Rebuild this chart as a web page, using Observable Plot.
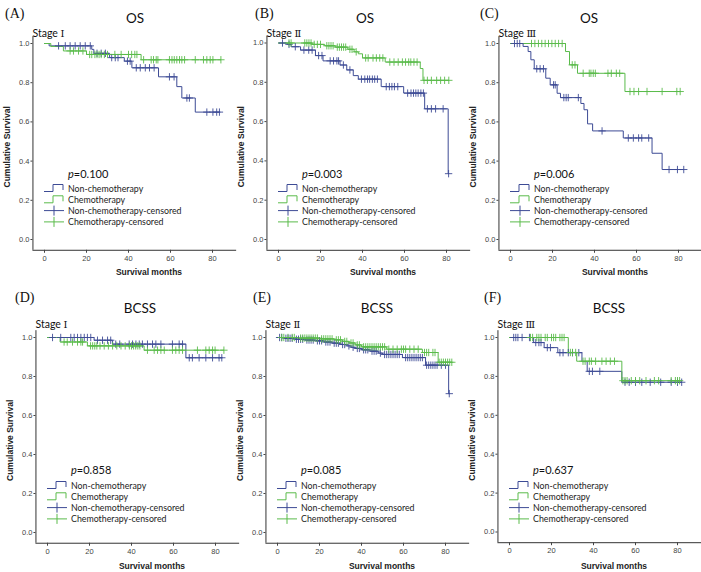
<!DOCTYPE html>
<html><head><meta charset="utf-8">
<script src="https://cdn.jsdelivr.net/npm/d3@7"></script>
<script src="https://cdn.jsdelivr.net/npm/@observablehq/plot@0.6"></script>
<style>
html,body{margin:0;padding:0;background:#fff;}
#root{position:relative;width:701px;height:572px;overflow:hidden;background:#fff;}
#root svg{position:absolute;}
</style></head><body><div id="root"></div>
<script>
// ---------- DATA ----------
const panelLetters = ["(A)","(B)","(C)","(D)","(E)","(F)"];
const endpoints = ["OS","OS","OS","BCSS","BCSS","BCSS"];
const stageNumerals = ["Ⅰ","Ⅱ","Ⅲ","Ⅰ","Ⅱ","Ⅲ"];
const pValues = ["0.100","0.003","0.006","0.858","0.085","0.637"];
const legendLabels = ["Non-chemotherapy","Chemotherapy","Non-chemotherapy-censored","Chemotherapy-censored"];
const xTicks = [0,20,40,60,80];
const yTicks = [0,0.2,0.4,0.6,0.8,1.0];
const xLabel = "Survival months";
const yLabel = "Cumulative Survival";

// Kaplan-Meier steps: [month, survival after event]; censored: months
const A_nonSteps = [[0,1],[2.2,0.988],[22.5,0.97],[23.5,0.95],[31,0.928],[38,0.91],[41.6,0.876],[54.3,0.83],[63,0.78],[65.4,0.722],[71.8,0.65]];
const A_nonCens = [6.7,9.9,12.2,14.6,17,19.4,21.8,25,27,29,32,33.7,35,39.5,40.8,43.7,45.6,48,50,52.2,59.5,61.7,67.8,69,77.3,80.2,82,83.3];
const A_chemoSteps = [[0,1],[3,0.985],[9,0.962],[20,0.944],[46,0.917]];
const A_chemoCens = [12.2,13.8,16.2,18.3,21.5,22.5,24,25,26,27,28.5,30,33.5,36.5,40,41.5,43,44,47.2,50.8,51.9,53.2,54,59.5,60.7,61.8,63,64.3,65.4,66.7,71.8,75.7,77.3,78.9,80.2,84];

const B_nonSteps = [[0,1],[4.2,0.993],[6,0.981],[10.5,0.964],[17.6,0.936],[21.2,0.909],[29.3,0.888],[32.5,0.863],[35.6,0.834],[38,0.816],[48.9,0.778],[59.6,0.745],[69.6,0.665],[80.8,0.335]];
const B_nonCens = [1.9,5,8,12.1,14.4,16,19.1,20.7,24.6,26.2,27.8,28.6,30.9,34,39.5,41.1,42.4,43.4,44.7,45.8,47.1,51.3,52.8,54,55.2,56.8,61.5,63.1,64.3,65.4,66.5,67.8,69,70.9,72.8,74.8,78.4,81];
const B_chemoSteps = [[0,1],[16,0.993],[22,0.986],[27,0.979],[33,0.968],[36,0.955],[38,0.945],[40,0.924],[50.8,0.903],[67.5,0.87],[68.8,0.81]];
const B_chemoCens = [5,6,12.5,13.5,14.5,15.5,17,18.5,20,23,24,25,26,28,29,30,31,32,34,35,37,41.5,42.7,45,46.6,48.2,49.7,53,55,57,59,60.5,62,63,64.5,66,69.3,70.9,72.8,75.3,77.2,79.1,81.1];

const C_nonSteps = [[0,1],[6,0.985],[8.4,0.959],[9.7,0.917],[11.3,0.871],[16.8,0.823],[18.9,0.789],[22.2,0.746],[23.8,0.724],[33.5,0.694],[35,0.662],[36.7,0.59],[39.1,0.554],[53.7,0.518],[67.4,0.44],[72.2,0.357]];
const C_nonCens = [1.9,3.2,4.4,12.5,14.1,15.7,20.5,21.3,25.4,26.5,27.5,32.3,43.6,56.1,58.5,61,62.5,65.8,75.5,79.5,82.5];
const C_chemoSteps = [[0,1],[26.2,0.959],[28.1,0.891],[31.9,0.848],[54.5,0.755]];
const C_chemoCens = [10,11.6,13.3,14.9,16.5,18.1,19.7,21.3,22.9,24.6,29.4,30.7,34.6,37.5,38.3,39.4,40.4,46.4,48,50.4,52,56.9,58.8,61,65,72.2,79.2,80.8];

const D_nonSteps = [[0,1],[22.2,0.986],[31,0.966],[65.9,0.896]];
const D_nonCens = [2.4,6.3,11.1,12.7,14.3,15.9,17.5,19,20.6,23.8,26.2,28.6,30.1,32.5,34.4,38.9,40.5,42.1,43.7,45.2,47.6,50,51.6,54,59.5,62.7,64.3,67.5,69,72.2,75.4,78.6,81.7,83];
const D_chemoSteps = [[0,1],[6,0.977],[19,0.957],[46,0.935]];
const D_chemoCens = [7.9,9.4,11.9,14.3,15.9,16.7,20.5,21.5,22.5,23.5,25,27,29,31,33,35,37,39,40,41,42,43,44,47.6,50.8,52.4,54,55.6,59.5,61.1,62.7,64.3,71.4,75.4,77,78.6,79.8,84];

const E_nonSteps = [[0,1],[3,0.996],[8,0.991],[13,0.987],[18,0.983],[22,0.977],[26,0.971],[30,0.964],[33,0.957],[35,0.95],[37,0.944],[40,0.937],[44,0.93],[48,0.92],[50,0.913],[59.5,0.897],[70.5,0.858],[81.5,0.712]];
const E_nonCens = [1,2,4,5,6,7,9,10,11,12,14,15,16,17,19,20,21,23,24,25,27,28,29,31,32,34,36,38,39,41,42,43,45,46,47,49,51,52,53,54,55,56,57,58,61,62,63,64,65,66,67,68,69,71,72,73,74,75,76,78,80,81.8];
const E_chemoSteps = [[0,1],[10,0.997],[20,0.993],[27,0.988],[31,0.98],[34,0.972],[37,0.962],[40,0.952],[52,0.94],[69,0.923],[76.5,0.873]];
const E_chemoCens = [2,3,5,7,8,11,12,13,14,15,16,17,18,19,21,22,23,24,25,26,28,29,30,32,33,35,36,38,39,41,42,43,44,45,46,47,48,49,50,51,53,55,57,59,60,61,63,65,67,70,71,72,74,75,77,78,79,80,81,82,83];

const F_nonSteps = [[0,1],[11.5,0.974],[16.5,0.948],[23,0.922],[34.5,0.876],[37,0.826],[53.5,0.77]];
const F_nonCens = [2,3,4,6,9.5,12.5,14,15,18,19.5,24,25.5,28,30,33,38,39.5,43,55,57,60,63,67,72,77,80,82];
const F_chemoSteps = [[0,1],[28,0.923],[32,0.878],[53.5,0.778]];
const F_chemoCens = [10,11,13,14,15,17,18,20,21,22,24,25,26,29,30,31.5,35,36,38,39,41,44,46,48,50,54,55,56,58,60,62,65,69,71,77,79,80,81];

// ---------- LAYOUT / STYLE ----------
const colors = ["#3d4b95", "#5abb4b"];
const panelsData = [
  [A_nonSteps, A_nonCens, A_chemoSteps, A_chemoCens],
  [B_nonSteps, B_nonCens, B_chemoSteps, B_chemoCens],
  [C_nonSteps, C_nonCens, C_chemoSteps, C_chemoCens],
  [D_nonSteps, D_nonCens, D_chemoSteps, D_chemoCens],
  [E_nonSteps, E_nonCens, E_chemoSteps, E_chemoCens],
  [F_nonSteps, F_nonCens, F_chemoSteps, F_chemoCens]
];
const x0px = [44, 278, 510, 47, 277, 509];     // pixel of month 0
const y1px = [43, 42.5, 43, 337, 337, 337];     // pixel of survival 1.0
const y0px = [239, 239, 239, 532, 532, 531.5];  // pixel of survival 0.0
const rowTop = [0, 0, 0, 288, 288, 288];
const rowH = [288, 288, 288, 284, 284, 284];
const letterPos = [[5,13],[255,13],[480,13],[15,297],[253,297],[484,297]];
const titlePos = [[135,18],[365,18],[589,18],[140,308],[377,308],[609,308]];
const stageY = [33, 33.3, 33.3, 324, 323.5, 323.5];
const pY = [173, 173, 173, 469, 469, 469];
const legY = [188, 188, 188, 485, 485, 485];
const xlabY = [272, 272, 272, 566, 566, 566];
const kx = 2.1, xMin = -5.5, xMax = 91.5, yMin = -0.055, yMax = 1.035;

const root = document.getElementById("root");

function survAt(steps, t) { let s = 1; for (const [ti, si] of steps) if (ti <= t) s = si; return s; }

panelsData.forEach((pd, i) => {
  const curves = [], cens = [];
  [0, 1].forEach(g => {
    const steps = pd[g * 2], cs = pd[g * 2 + 1];
    const tEnd = Math.max(steps[steps.length - 1][0], ...cs);
    steps.forEach(([t, s]) => curves.push({g, t, s}));
    curves.push({g, t: tEnd, s: steps[steps.length - 1][1]});
    cs.forEach(t => cens.push({g, t, s: survAt(steps, t)}));
  });
  const L = x0px[i] - 44, W = 240;
  const mL = (x0px[i] + xMin * kx) - L;
  const mR = W - ((x0px[i] + xMax * kx) - L);
  const ky = y0px[i] - y1px[i];
  const topPx = y1px[i] - (yMax - 1) * ky, botPx = y0px[i] - yMin * ky;
  const T = rowTop[i], H = rowH[i];
  const svg = Plot.plot({
    width: W, height: H,
    marginLeft: mL, marginRight: mR, marginTop: topPx - T, marginBottom: T + H - botPx,
    x: {domain: [xMin, xMax]},
    y: {domain: [yMin, yMax]},
    style: {background: "transparent", fontFamily: "'Liberation Sans', Arial, sans-serif", fontSize: "7.5px", color: "#444", overflow: "visible"},
    marks: [
      Plot.ruleX([xMin], {stroke: "#333", strokeWidth: 1}),
      Plot.ruleY([yMin], {stroke: "#333", strokeWidth: 1}),
      Plot.axisX({ticks: xTicks, tickSize: 3, tickPadding: 2, label: null, tickFormat: d3.format("d")}),
      Plot.axisY({ticks: yTicks, tickSize: 2, tickPadding: 1.5, label: null, tickFormat: d3.format(".1f")}),
      Plot.line(curves, {x: "t", y: "s", z: "g", stroke: d => colors[d.g], curve: "step-after", strokeWidth: 1}),
      Plot.dot(cens, {x: "t", y: "s", symbol: "plus", r: 2.5, stroke: d => colors[d.g], strokeWidth: 0.9})
    ]
  });
  svg.style.position = "absolute";
  svg.style.left = L + "px";
  svg.style.top = T + "px";
  root.appendChild(svg);
});

// ---------- OVERLAY TEXTS & LEGENDS ----------
const ov = d3.select(root).append("svg").attr("width", 701).attr("height", 572).style("left", "0px").style("top", "0px");
panelsData.forEach((pd, i) => {
  const x0 = x0px[i], axX = x0 + xMin * kx;
  ov.append("text").attr("x", letterPos[i][0]).attr("y", letterPos[i][1]).attr("dominant-baseline", "central")
    .attr("font-family", "'Liberation Serif', 'Times New Roman', serif").attr("font-size", 14).attr("fill", "#111").text(panelLetters[i]);
  ov.append("text").attr("x", titlePos[i][0]).attr("y", titlePos[i][1]).attr("dominant-baseline", "central").attr("text-anchor", "middle")
    .attr("font-family", "Lato, 'Open Sans', sans-serif").attr("font-size", 13.5).attr("fill", "#111").text(endpoints[i]);
  const st = ov.append("text").attr("x", axX).attr("y", stageY[i]).attr("dominant-baseline", "central").attr("fill", "#111");
  st.append("tspan").attr("font-family", "Lato, 'Open Sans', sans-serif").attr("font-size", 10.5).text("Stage ");
  st.append("tspan").attr("font-family", "'DejaVu Serif', 'Noto Sans CJK SC', serif").attr("font-size", 10).attr("fill", "#111").text(stageNumerals[i]);
  // axis titles
  const yc = y0px[i] - 0.47 * (y0px[i] - y1px[i]);
  ov.append("text").attr("transform", `translate(${axX - 25},${yc}) rotate(-90)`).attr("text-anchor", "middle").attr("dominant-baseline", "central")
    .attr("font-family", "'Liberation Sans', Arial, sans-serif").attr("font-weight", "bold").attr("font-size", 8.5).attr("fill", "#222").text(yLabel);
  ov.append("text").attr("x", x0 + 50 * kx).attr("y", xlabY[i]).attr("text-anchor", "middle").attr("dominant-baseline", "central")
    .attr("font-family", "'Liberation Sans', Arial, sans-serif").attr("font-weight", "bold").attr("font-size", 8.5).attr("fill", "#222").text(xLabel);
  // p value
  const pt = ov.append("text").attr("x", x0 + 24).attr("y", pY[i]).attr("dominant-baseline", "central")
    .attr("font-family", "Lato, 'Open Sans', sans-serif").attr("font-size", 11).attr("fill", "#111");
  pt.append("tspan").attr("font-style", "italic").text("p");
  pt.append("tspan").text("=" + pValues[i]);
  // legend
  legendLabels.forEach((lab, k) => {
    const cy = legY[i] + k * 11.3;
    const col = colors[k % 2];
    if (k < 2) {
      ov.append("path").attr("d", `M${x0},${cy + 3.5}H${x0 + 9}V${cy - 3.5}H${x0 + 19}V${cy + 2}`)
        .attr("fill", "none").attr("stroke", col).attr("stroke-width", 1);
    } else {
      ov.append("path").attr("d", `M${x0},${cy}H${x0 + 20}M${x0 + 10},${cy - 5}V${cy + 5}`)
        .attr("fill", "none").attr("stroke", col).attr("stroke-width", 1);
    }
    ov.append("text").attr("x", x0 + 24).attr("y", cy).attr("dominant-baseline", "central")
      .attr("font-family", "Lato, 'Open Sans', sans-serif").attr("font-size", 8.8).attr("fill", "#222").text(lab);
  });
});
</script></body></html>
